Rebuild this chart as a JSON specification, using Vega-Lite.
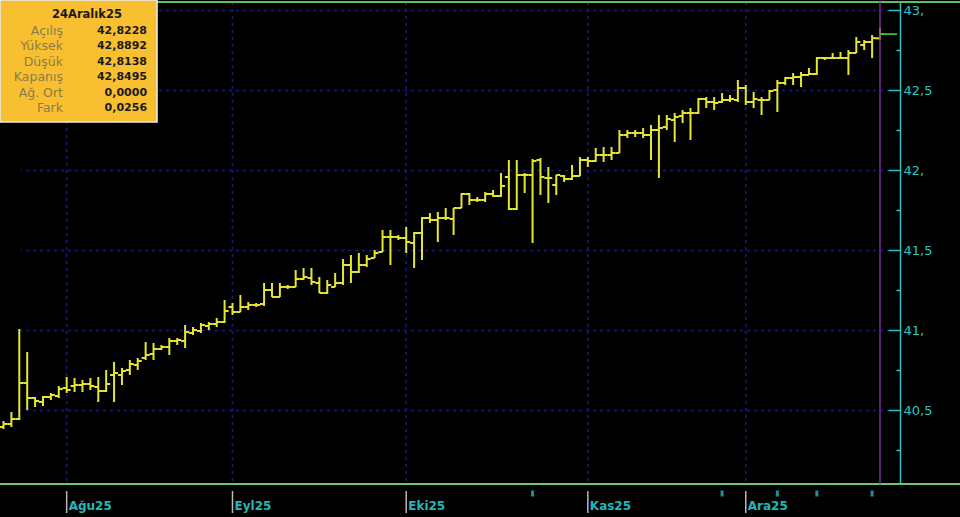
{
"$schema":"https://vega.github.io/schema/vega-lite/v6.json",
"width":900,"height":482,
"autosize":{"type":"none"},
"padding":{"left":0,"top":2,"right":60,"bottom":33},
"background":"#000000",
"config":{"view":{"stroke":null},"font":"DejaVu Sans"},
"datasets":{
"ohlc":[
{"d":"2025-07-22","o":40.3938,"h":40.4313,"l":40.3813,"c":40.4125},
{"d":"2025-07-23","o":40.4125,"h":40.4875,"l":40.3938,"c":40.4438},
{"d":"2025-07-24","o":40.4438,"h":41.0063,"l":40.4375,"c":40.6688},
{"d":"2025-07-25","o":40.6688,"h":40.8625,"l":40.5,"c":40.575},
{"d":"2025-07-28","o":40.575,"h":40.5813,"l":40.5188,"c":40.5563},
{"d":"2025-07-29","o":40.55,"h":40.5875,"l":40.525,"c":40.5813},
{"d":"2025-07-30","o":40.5813,"h":40.6063,"l":40.5625,"c":40.5938},
{"d":"2025-07-31","o":40.5875,"h":40.65,"l":40.575,"c":40.6313},
{"d":"2025-08-01","o":40.6375,"h":40.7063,"l":40.6063,"c":40.625},
{"d":"2025-08-04","o":40.65,"h":40.7,"l":40.6125,"c":40.6563},
{"d":"2025-08-05","o":40.6563,"h":40.6875,"l":40.6125,"c":40.6625},
{"d":"2025-08-06","o":40.6625,"h":40.7,"l":40.625,"c":40.65},
{"d":"2025-08-07","o":40.6438,"h":40.7063,"l":40.55,"c":40.6188},
{"d":"2025-08-08","o":40.6188,"h":40.75,"l":40.6125,"c":40.6625},
{"d":"2025-08-11","o":40.7188,"h":40.8,"l":40.55,"c":40.7313},
{"d":"2025-08-12","o":40.7188,"h":40.7625,"l":40.6563,"c":40.7438},
{"d":"2025-08-13","o":40.75,"h":40.8125,"l":40.7188,"c":40.7875},
{"d":"2025-08-14","o":40.7813,"h":40.825,"l":40.75,"c":40.8063},
{"d":"2025-08-15","o":40.825,"h":40.925,"l":40.8125,"c":40.8438},
{"d":"2025-08-18","o":40.85,"h":40.9188,"l":40.8125,"c":40.8813},
{"d":"2025-08-19","o":40.8813,"h":40.9063,"l":40.875,"c":40.8938},
{"d":"2025-08-20","o":40.8938,"h":40.95,"l":40.8438,"c":40.9313},
{"d":"2025-08-21","o":40.9313,"h":40.95,"l":40.9063,"c":40.9375},
{"d":"2025-08-22","o":40.9313,"h":41.0313,"l":40.8875,"c":40.9875},
{"d":"2025-08-25","o":40.9813,"h":41.0188,"l":40.9688,"c":41.0},
{"d":"2025-08-26","o":40.9938,"h":41.0438,"l":40.9813,"c":41.0313},
{"d":"2025-08-27","o":41.025,"h":41.05,"l":41.0,"c":41.0375},
{"d":"2025-08-28","o":41.0375,"h":41.075,"l":41.0188,"c":41.05},
{"d":"2025-08-29","o":41.05,"h":41.1875,"l":41.0438,"c":41.1188},
{"d":"2025-09-01","o":41.1438,"h":41.1688,"l":41.0938,"c":41.1125},
{"d":"2025-09-02","o":41.1125,"h":41.2188,"l":41.1125,"c":41.1438},
{"d":"2025-09-03","o":41.1438,"h":41.175,"l":41.125,"c":41.1563},
{"d":"2025-09-04","o":41.1563,"h":41.1688,"l":41.1438,"c":41.1563},
{"d":"2025-09-05","o":41.1625,"h":41.2938,"l":41.15,"c":41.25},
{"d":"2025-09-08","o":41.25,"h":41.2938,"l":41.2063,"c":41.2063},
{"d":"2025-09-09","o":41.2063,"h":41.2938,"l":41.2063,"c":41.2688},
{"d":"2025-09-10","o":41.2688,"h":41.2813,"l":41.2563,"c":41.2688},
{"d":"2025-09-11","o":41.2688,"h":41.375,"l":41.2688,"c":41.3188},
{"d":"2025-09-12","o":41.3188,"h":41.3875,"l":41.3125,"c":41.3313},
{"d":"2025-09-15","o":41.325,"h":41.3875,"l":41.2813,"c":41.3},
{"d":"2025-09-16","o":41.2938,"h":41.3313,"l":41.2313,"c":41.2313},
{"d":"2025-09-17","o":41.2313,"h":41.3125,"l":41.225,"c":41.2813},
{"d":"2025-09-18","o":41.2688,"h":41.3563,"l":41.2688,"c":41.2938},
{"d":"2025-09-19","o":41.2938,"h":41.4438,"l":41.2813,"c":41.4063},
{"d":"2025-09-22","o":41.4063,"h":41.4688,"l":41.2938,"c":41.3625},
{"d":"2025-09-23","o":41.3625,"h":41.4813,"l":41.3563,"c":41.4063},
{"d":"2025-09-24","o":41.4063,"h":41.4688,"l":41.3938,"c":41.4438},
{"d":"2025-09-25","o":41.45,"h":41.5,"l":41.45,"c":41.4813},
{"d":"2025-09-26","o":41.4875,"h":41.625,"l":41.4875,"c":41.5813},
{"d":"2025-09-29","o":41.5813,"h":41.625,"l":41.4063,"c":41.5813},
{"d":"2025-09-30","o":41.5813,"h":41.5938,"l":41.5625,"c":41.575},
{"d":"2025-10-01","o":41.575,"h":41.6438,"l":41.4813,"c":41.55},
{"d":"2025-10-02","o":41.5438,"h":41.6125,"l":41.3875,"c":41.6063},
{"d":"2025-10-03","o":41.6063,"h":41.7063,"l":41.4375,"c":41.7},
{"d":"2025-10-06","o":41.7,"h":41.7313,"l":41.6688,"c":41.6875},
{"d":"2025-10-07","o":41.6875,"h":41.7375,"l":41.55,"c":41.7},
{"d":"2025-10-08","o":41.7,"h":41.7625,"l":41.6875,"c":41.7},
{"d":"2025-10-09","o":41.6938,"h":41.7625,"l":41.5938,"c":41.7625},
{"d":"2025-10-10","o":41.7625,"h":41.8563,"l":41.7625,"c":41.85},
{"d":"2025-10-13","o":41.85,"h":41.8563,"l":41.7813,"c":41.8125},
{"d":"2025-10-14","o":41.8125,"h":41.8313,"l":41.8,"c":41.8125},
{"d":"2025-10-15","o":41.8125,"h":41.8625,"l":41.8,"c":41.85},
{"d":"2025-10-16","o":41.85,"h":41.875,"l":41.8313,"c":41.8375},
{"d":"2025-10-17","o":41.8375,"h":41.9813,"l":41.8313,"c":41.9},
{"d":"2025-10-20","o":41.9563,"h":42.0625,"l":41.75,"c":41.7563},
{"d":"2025-10-21","o":41.7563,"h":42.0625,"l":41.75,"c":41.9688},
{"d":"2025-10-22","o":41.9688,"h":41.9813,"l":41.8563,"c":41.9688},
{"d":"2025-10-23","o":41.9688,"h":42.0688,"l":41.5438,"c":42.0563},
{"d":"2025-10-24","o":42.0625,"h":42.075,"l":41.8438,"c":41.9563},
{"d":"2025-10-27","o":41.95,"h":42.0188,"l":41.7938,"c":41.95},
{"d":"2025-10-28","o":41.9063,"h":41.9688,"l":41.8438,"c":41.9688},
{"d":"2025-10-29","o":41.9625,"h":41.9688,"l":41.925,"c":41.9438},
{"d":"2025-10-30","o":41.9438,"h":42.0313,"l":41.9375,"c":41.9625},
{"d":"2025-10-31","o":41.9625,"h":42.0813,"l":41.9625,"c":42.0625},
{"d":"2025-11-03","o":42.0625,"h":42.0813,"l":42.0188,"c":42.0563},
{"d":"2025-11-04","o":42.0563,"h":42.1375,"l":42.05,"c":42.0938},
{"d":"2025-11-05","o":42.0938,"h":42.1438,"l":42.05,"c":42.0938},
{"d":"2025-11-06","o":42.0938,"h":42.1438,"l":42.0625,"c":42.1063},
{"d":"2025-11-07","o":42.1063,"h":42.25,"l":42.1063,"c":42.2188},
{"d":"2025-11-10","o":42.2188,"h":42.25,"l":42.2,"c":42.2313},
{"d":"2025-11-11","o":42.2313,"h":42.25,"l":42.2063,"c":42.2313},
{"d":"2025-11-12","o":42.2313,"h":42.2625,"l":42.2,"c":42.2188},
{"d":"2025-11-13","o":42.2188,"h":42.2813,"l":42.0625,"c":42.25},
{"d":"2025-11-14","o":42.25,"h":42.3438,"l":41.95,"c":42.2625},
{"d":"2025-11-17","o":42.2688,"h":42.3438,"l":42.25,"c":42.3188},
{"d":"2025-11-18","o":42.3125,"h":42.3563,"l":42.175,"c":42.3313},
{"d":"2025-11-19","o":42.3375,"h":42.375,"l":42.2938,"c":42.3563},
{"d":"2025-11-20","o":42.3563,"h":42.3875,"l":42.1875,"c":42.3563},
{"d":"2025-11-21","o":42.3563,"h":42.45,"l":42.35,"c":42.4438},
{"d":"2025-11-24","o":42.4438,"h":42.4563,"l":42.3875,"c":42.425},
{"d":"2025-11-25","o":42.425,"h":42.4563,"l":42.375,"c":42.4188},
{"d":"2025-11-26","o":42.425,"h":42.4813,"l":42.4188,"c":42.4375},
{"d":"2025-11-27","o":42.4375,"h":42.4688,"l":42.425,"c":42.4438},
{"d":"2025-11-28","o":42.4375,"h":42.5625,"l":42.425,"c":42.5125},
{"d":"2025-12-01","o":42.5125,"h":42.5313,"l":42.4063,"c":42.425},
{"d":"2025-12-02","o":42.425,"h":42.4875,"l":42.3875,"c":42.4438},
{"d":"2025-12-03","o":42.4375,"h":42.4563,"l":42.3438,"c":42.4375},
{"d":"2025-12-04","o":42.4375,"h":42.5,"l":42.4375,"c":42.4938},
{"d":"2025-12-05","o":42.5,"h":42.5625,"l":42.3625,"c":42.5438},
{"d":"2025-12-08","o":42.5438,"h":42.5813,"l":42.5313,"c":42.575},
{"d":"2025-12-09","o":42.575,"h":42.6063,"l":42.5313,"c":42.5813},
{"d":"2025-12-10","o":42.5813,"h":42.6125,"l":42.5188,"c":42.5938},
{"d":"2025-12-11","o":42.5938,"h":42.6375,"l":42.5938,"c":42.6},
{"d":"2025-12-12","o":42.6,"h":42.7063,"l":42.5938,"c":42.7},
{"d":"2025-12-15","o":42.7,"h":42.7063,"l":42.6875,"c":42.7},
{"d":"2025-12-16","o":42.7,"h":42.7313,"l":42.6938,"c":42.7},
{"d":"2025-12-17","o":42.7,"h":42.7375,"l":42.6938,"c":42.7},
{"d":"2025-12-18","o":42.7,"h":42.75,"l":42.5938,"c":42.7313},
{"d":"2025-12-19","o":42.7313,"h":42.8313,"l":42.7313,"c":42.8},
{"d":"2025-12-22","o":42.7813,"h":42.8125,"l":42.75,"c":42.8},
{"d":"2025-12-23","o":42.8,"h":42.8438,"l":42.7,"c":42.8239},
{"d":"2025-12-24","o":42.8228,"h":42.8892,"l":42.8138,"c":42.8495}
],
"events":[{"d":"2025-10-23"},{"d":"2025-11-26"},{"d":"2025-12-05"},{"d":"2025-12-12"},{"d":"2025-12-23"}],
"months":[{"d":"2025-08-01","m":"Ağu25"},{"d":"2025-09-01","m":"Eyl25"},{"d":"2025-10-01","m":"Eki25"},{"d":"2025-11-03","m":"Kas25"},{"d":"2025-12-01","m":"Ara25"}],
"info":[
{"k":"24Aralık25","v":null},
{"k":"Açılış","v":42.8228},
{"k":"Yüksek","v":42.8892},
{"k":"Düşük","v":42.8138},
{"k":"Kapanış","v":42.8495},
{"k":"Ağ. Ort","v":0},
{"k":"Fark","v":0.0256}
]
},
"data":{"name":"ohlc"},
"layer":[
{"data":{"name":"months"},"mark":{"type":"rule","color":"#1a1a78","strokeWidth":1.6,"strokeDash":[3,4]},
 "encoding":{"x":{"field":"d","type":"ordinal","axis":null},
  "y":{"datum":43.05,"type":"quantitative","scale":{"domain":[40.0375,43.05],"nice":false,"zero":false},"axis":null},"y2":{"datum":40.0375}}},
{"data":{"name":"months"},"mark":{"type":"rule","color":"#b8b8b8","strokeWidth":1.5},
 "encoding":{"x":{"field":"d","type":"ordinal","axis":null},
  "y":{"datum":39.99375,"type":"quantitative","scale":{"domain":[40.0375,43.05],"nice":false,"zero":false},"axis":null},"y2":{"datum":39.85625}}},
{"data":{"name":"months"},"mark":{"type":"text","align":"left","baseline":"alphabetic","dx":2,"font":"DejaVu Sans","fontSize":12,"fontWeight":"bold","color":"#22b8b8"},
 "encoding":{"x":{"field":"d","type":"ordinal","axis":null},
  "y":{"datum":39.875,"type":"quantitative","scale":{"domain":[40.0375,43.05],"nice":false,"zero":false},"axis":null},"text":{"field":"m"}}},
{"data":{"values":[{}]},"mark":{"type":"rule","color":"#5cc05c","strokeWidth":2,"xOffset":-3.5,"x2Offset":80},
 "encoding":{"x":{"datum":"2025-07-22","type":"ordinal","axis":null},"x2":{"datum":"2025-12-24"},
  "y":{"datum":43.05,"type":"quantitative","scale":{"domain":[40.0375,43.05],"nice":false,"zero":false},"axis":null}}},
{"data":{"values":[{}]},"mark":{"type":"rule","color":"#6cc86c","strokeWidth":2,"xOffset":-3.5,"x2Offset":80},
 "encoding":{"x":{"datum":"2025-07-22","type":"ordinal","axis":null},"x2":{"datum":"2025-12-24"},
  "y":{"datum":40.0375,"type":"quantitative","scale":{"domain":[40.0375,43.05],"nice":false,"zero":false},"axis":null}}},
{"mark":{"type":"rule","color":"#e6e632","strokeWidth":2},
 "encoding":{
  "x":{"field":"d","type":"ordinal","scale":{"type":"point","range":[3.5,880],"padding":0},"axis":null},
  "y":{"field":"h","type":"quantitative","scale":{"domain":[40.0375,43.05],"nice":false,"zero":false},
   "axis":{"orient":"right","title":null,"values":[40.25,40.5,40.75,41,41.25,41.5,41.75,42,42.25,42.5,42.75,43],
    "domainColor":"#2fc3c3","domainWidth":1.5,"tickColor":"#2fc3c3","tickWidth":1.5,
    "tickSize":{"condition":{"test":"(datum.value*2)%1==0","value":-12},"value":-4},
    "labelExpr":"(datum.value*2)%1!=0?'':(datum.value%1==0?format(datum.value,'d')+',':replace(format(datum.value,'.1f'),'.',','))",
    "labelColor":"#2fc3c3","labelFont":"DejaVu Sans","labelFontSize":13,"labelAlign":"left","labelBaseline":"middle","labelPadding":15,
    "labelOverlap":false,"labelBound":false,"labelFlush":false,
    "grid":true,"gridColor":"#1a1a78","gridDash":[3,4],"gridWidth":1.6,
    "gridOpacity":{"condition":{"test":"(datum.value*2)%1==0","value":1},"value":0}}},
  "y2":{"field":"l"}}},
{"mark":{"type":"rule","color":"#e6e632","strokeWidth":2,"xOffset":-4},
 "encoding":{"x":{"field":"d","type":"ordinal","axis":null},"x2":{"field":"d"},
  "y":{"field":"o","type":"quantitative","scale":{"domain":[40.0375,43.05],"nice":false,"zero":false},"axis":null}}},
{"mark":{"type":"rule","color":"#e6e632","strokeWidth":2,"x2Offset":4},
 "encoding":{"x":{"field":"d","type":"ordinal","axis":null},"x2":{"field":"d"},
  "y":{"field":"c","type":"quantitative","scale":{"domain":[40.0375,43.05],"nice":false,"zero":false},"axis":null}}},
{"transform":[{"filter":"datum.d=='2025-12-24'"}],"mark":{"type":"rule","color":"#7a2e90","strokeWidth":1.5},
 "encoding":{"x":{"field":"d","type":"ordinal","axis":null}}},
{"transform":[{"filter":"datum.d=='2025-12-24'"}],"mark":{"type":"rule","color":"#3cb83c","strokeWidth":1.8,"x2Offset":17},
 "encoding":{"x":{"field":"d","type":"ordinal","axis":null},"x2":{"field":"d"},
  "y":{"field":"c","type":"quantitative","scale":{"domain":[40.0375,43.05],"nice":false,"zero":false},"axis":null}}},
{"data":{"name":"events"},"mark":{"type":"tick","orient":"vertical","color":"#28d0d8","size":6,"thickness":3},
 "encoding":{"x":{"field":"d","type":"ordinal","axis":null},
  "y":{"datum":39.978,"type":"quantitative","scale":{"domain":[40.0375,43.05],"nice":false,"zero":false},"axis":null}}},
{"data":{"name":"info"},"transform":[{"filter":"datum.v==null"}],
 "mark":{"type":"rect","fill":"#f8c030","stroke":"#ececec","strokeWidth":1.5,"xOffset":-3.5,"x2Offset":3.5,"yOffset":-15,"y2Offset":14},
 "encoding":{"x":{"datum":"2025-07-22","type":"ordinal","axis":null},"x2":{"datum":"2025-08-18"},
  "y":{"datum":"24Aralık25","type":"ordinal","scale":{"type":"point","domain":["24Aralık25","Açılış","Yüksek","Düşük","Kapanış","Ağ. Ort","Fark"],"range":[13,106],"padding":0},"axis":null},
  "y2":{"datum":"Fark"}}},
{"data":{"name":"info"},"transform":[{"filter":"datum.v==null"}],
 "mark":{"type":"text","align":"center","baseline":"middle","dx":4.5,"font":"DejaVu Sans","fontSize":11.5,"fontWeight":"bold","color":"#1a1a1a"},
 "encoding":{"x":{"datum":"2025-08-05","type":"ordinal","axis":null},
  "y":{"field":"k","type":"ordinal","scale":{"type":"point","domain":["24Aralık25","Açılış","Yüksek","Düşük","Kapanış","Ağ. Ort","Fark"],"range":[13,106],"padding":0},"axis":null},
  "text":{"field":"k"}}},
{"data":{"name":"info"},"transform":[{"filter":"datum.v!=null"}],
 "mark":{"type":"text","align":"right","baseline":"middle","dx":4.2,"font":"DejaVu Sans","fontSize":12.5,"color":"#8a7b4a"},
 "encoding":{"x":{"datum":"2025-07-31","type":"ordinal","axis":null},
  "y":{"field":"k","type":"ordinal","scale":{"type":"point","domain":["24Aralık25","Açılış","Yüksek","Düşük","Kapanış","Ağ. Ort","Fark"],"range":[13,106],"padding":0},"axis":null},
  "text":{"field":"k"}}},
{"data":{"name":"info"},"transform":[{"filter":"datum.v!=null"},{"calculate":"replace(format(datum.v,'.4f'),'.',',')","as":"vs"}],
 "mark":{"type":"text","align":"right","baseline":"middle","dx":1.4,"font":"DejaVu Sans","fontSize":11,"fontWeight":"bold","color":"#1a1a1a"},
 "encoding":{"x":{"datum":"2025-08-15","type":"ordinal","axis":null},
  "y":{"field":"k","type":"ordinal","scale":{"type":"point","domain":["24Aralık25","Açılış","Yüksek","Düşük","Kapanış","Ağ. Ort","Fark"],"range":[13,106],"padding":0},"axis":null},
  "text":{"field":"vs"}}}
],
"resolve":{"scale":{"y":"independent"}}
}
